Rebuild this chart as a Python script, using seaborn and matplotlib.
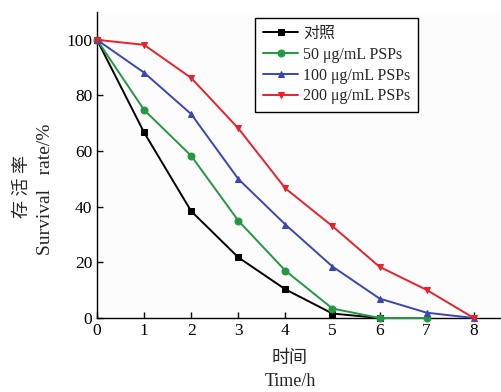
import matplotlib
matplotlib.use("Agg")
import matplotlib.pyplot as plt
import seaborn as sns
import pandas as pd

sns.set_style("ticks")
plt.rcParams['font.family'] = ['Liberation Serif', 'Noto Sans CJK SC']

hours = [0, 1, 2, 3, 4, 5, 6, 7, 8]
labels = ["对照", "50 μg/mL PSPs", "100 μg/mL PSPs", "200 μg/mL PSPs"]
control = [100, 66.7, 38.4, 21.8, 10.3, 1.6, 0]
psp50 = [100, 74.8, 58.3, 35.0, 17.0, 3.4, 0, 0]
psp100 = [100, 88.2, 73.3, 50.0, 33.6, 18.5, 7.0, 1.9, 0]
psp200 = [100, 98.2, 86.3, 68.2, 46.6, 33.0, 18.4, 10.1, 0]
series = [control, psp50, psp100, psp200]

colors = ["#000000", "#22983f", "#3a46b2", "#e8222a"]
markers = ["s", "o", "^", "v"]

fig = plt.figure(figsize=(5.02, 3.92), dpi=100)
ax = fig.add_axes([97/502, 1-318/392, 405/502, 306/392])
ax.set_facecolor("#fcfcfc")

for lab, vals, c, m in zip(labels, series, colors, markers):
    df = pd.DataFrame({"h": hours[:len(vals)], "v": vals})
    sns.lineplot(data=df, x="h", y="v", ax=ax, color=c, marker=m, markersize=5,
                 markeredgecolor=c, linewidth=1.4, label=lab, clip_on=False, zorder=3)

ax.set_xlim(0, 8.6)
ax.set_ylim(0, 110)
ax.set_xticks(range(0, 9))
ax.set_yticks(range(0, 101, 20))
ax.tick_params(direction="in", length=4, width=1, labelsize=12.5, colors="black")
for s in ["top", "right"]:
    ax.spines[s].set_visible(False)
for s in ["left", "bottom"]:
    ax.spines[s].set_linewidth(1.0)
    ax.spines[s].set_color("black")

ax.set_xlabel("")
ax.set_ylabel("")
fig.text(290/502, 1-358/392, "时间", fontsize=13, ha="center", va="center")
fig.text(290/502, 1-382/392, "Time/h", fontsize=13, ha="center", va="center")
fig.text(22/502, 1-186/392, "存 活 率", fontsize=13, rotation=90, ha="center", va="center")
fig.text(46/502, 1-255/392, "Survival   rate/%", fontsize=14, rotation=90,
         ha="center", va="bottom")

leg = ax.legend(loc="upper left", bbox_to_anchor=((255-97)/405, 1-(18-12)/306),
                borderaxespad=0, frameon=True, fancybox=False, edgecolor="black",
                fontsize=11.5, handlelength=2.2, borderpad=0.5, labelspacing=0.3,
                handletextpad=0.3)
leg.get_frame().set_linewidth(1.0)
leg.get_frame().set_facecolor("white")
leg.get_frame().set_alpha(1)

fig.savefig("out.png", dpi=100, facecolor="white")
